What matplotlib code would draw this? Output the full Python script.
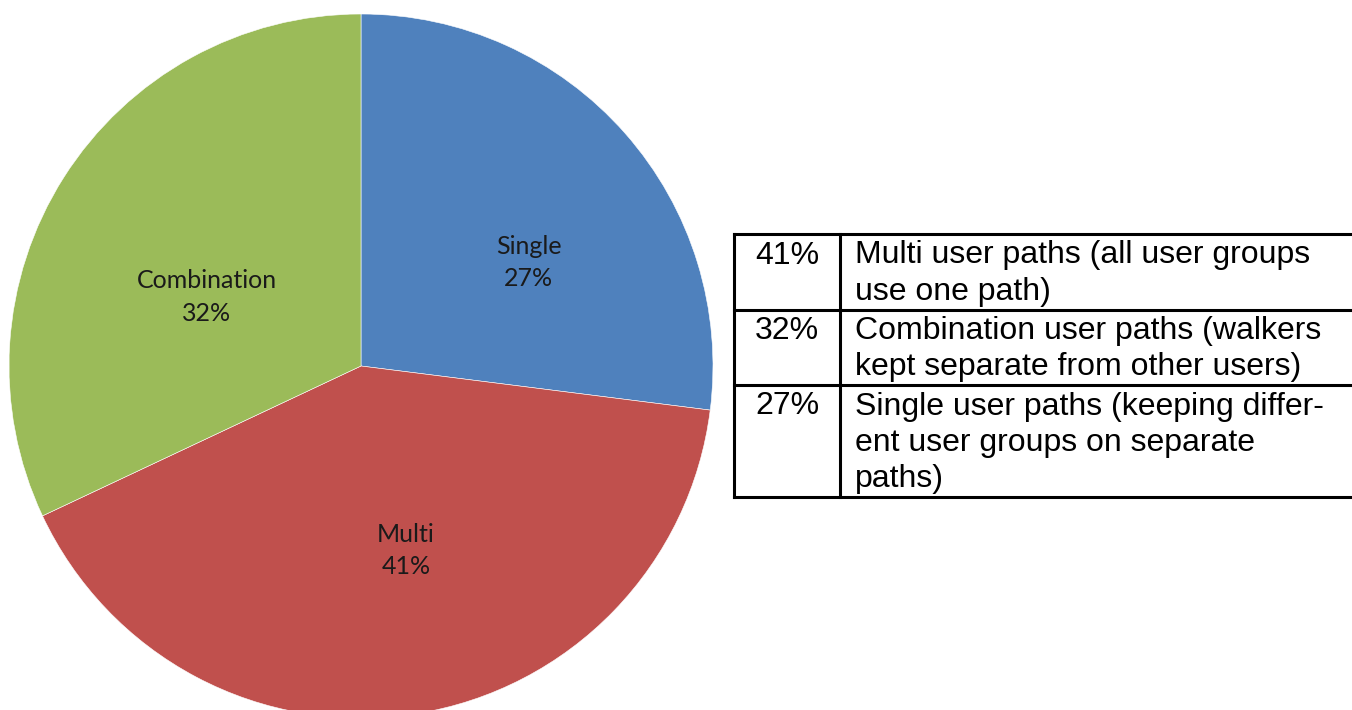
import matplotlib
matplotlib.use("Agg")
import matplotlib.pyplot as plt
import numpy as np

# ---- data ----
categories = ["Single", "Multi", "Combination"]
shares = [27, 41, 32]
colors = ["#4F81BD", "#C0504D", "#9BBB59"]

table_pcts = ["41%", "32%", "27%"]
table_lines = [
    ["Multi user paths (all user groups", "use one path)"],
    ["Combination user paths (walkers", "kept separate from other users)"],
    ["Single user paths (keeping differ-", "ent user groups on separate", "paths)"],
]

# ---- layout ----
W, H = 1352, 710
fig = plt.figure(figsize=(W / 100, H / 100), dpi=100)
fig.patch.set_facecolor("white")

cx, cy, R = 361, 366, 352
ax = fig.add_axes([(cx - R) / W, (H - cy - R) / H, 2 * R / W, 2 * R / H])
wedges, _ = ax.pie(shares, colors=colors, startangle=90, counterclock=False,
                   radius=1, wedgeprops=dict(edgecolor="white", linewidth=0.4))
ax.set_xlim(-1, 1)
ax.set_ylim(-1, 1)
ax.set_aspect("equal")
ax.axis("off")

ang_off = [-9.8, 4.7, 8.3]
dist = [0.56, 0.54, 0.48]
for i, w in enumerate(wedges):
    mid = np.deg2rad((w.theta1 + w.theta2) / 2 + ang_off[i])
    ax.text(dist[i] * np.cos(mid), dist[i] * np.sin(mid),
            f"{categories[i]}\n{shares[i]}%", ha="center", va="center",
            fontsize=18, family=["Lato", "DejaVu Sans"], linespacing=1.5,
            color="#1a1a1a")

# ---- table ----
tax = fig.add_axes([0, 0, 1, 1])
tax.set_xlim(0, W)
tax.set_ylim(H, 0)
tax.axis("off")

x_left, x_div, x_right = 734, 840, W + 10
top = 234
line_h, extra = 36.5, 2.5
lw = 2.2
font = ["Liberation Sans", "DejaVu Sans"]

y = top
bounds = [y]
for i, lines in enumerate(table_lines):
    base = y + 29.5
    tax.text((x_left + x_div) / 2, base, table_pcts[i], ha="center", va="baseline",
             fontsize=23, family=font, color="black")
    for j, ln in enumerate(lines):
        tax.text(855, base + j * line_h, ln, ha="left", va="baseline",
                 fontsize=23, family=font, color="black")
    y += len(lines) * line_h + extra
    bounds.append(y)

for b in bounds:
    tax.plot([x_left, x_right], [b, b], color="black", lw=lw, solid_capstyle="projecting")
for xv in (x_left, x_div):
    tax.plot([xv, xv], [bounds[0], bounds[-1]], color="black", lw=lw, solid_capstyle="projecting")

fig.savefig("out.png", dpi=100)
